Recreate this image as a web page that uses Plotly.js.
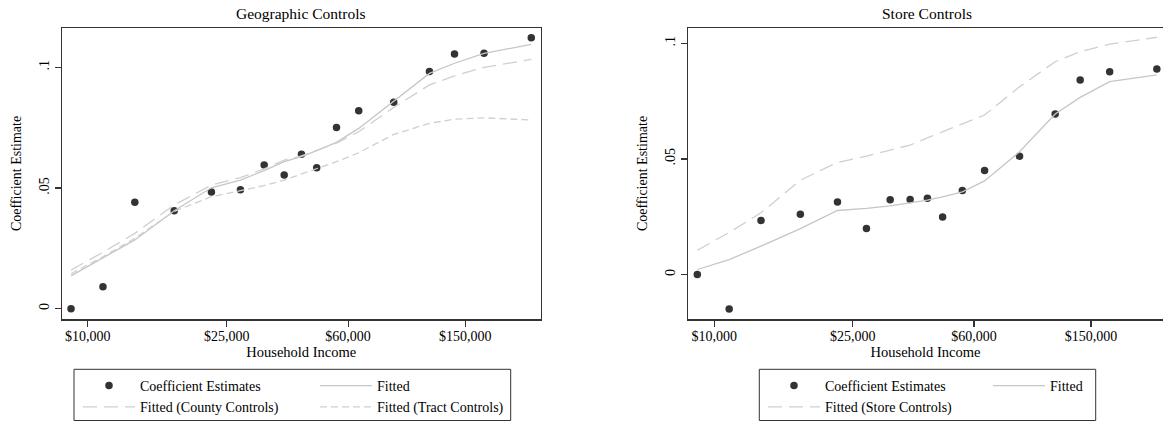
<!DOCTYPE html>
<html><head><meta charset="utf-8">
<script src="https://cdn.plot.ly/plotly-3.0.1.min.js"></script>
<style>html,body{margin:0;padding:0;background:#fff;overflow:hidden}</style>
</head><body><div id="chart" style="width:1163px;height:422px"></div>
<script>
// Income bin midpoints (x), plotted as ln(income) on a log-scaled axis
const income = [9000, 11000, 13500, 17500, 22500, 27500, 32500, 37500, 42500, 47500, 55000, 65000, 85000, 112500, 137500, 175000, 260000];
const tickIncome = [10000, 25000, 60000, 150000];
const tickLabels = ['$10,000', '$25,000', '$60,000', '$150,000'];
const yTickVals = [0, 0.05, 0.1];
const yTickLabels = ['0', '.05', '.1'];

// Panel 1: Geographic Controls
const geoCoef   = [0.0000, 0.0091, 0.0441, 0.0406, 0.0483, 0.0493, 0.0595, 0.0554, 0.0640, 0.0584, 0.0751, 0.0820, 0.0855, 0.0983, 0.1055, 0.1058, 0.1123];
const geoFitted = [0.0136, 0.0211, 0.0285, 0.0406, 0.0501, 0.0533, 0.0572, 0.0609, 0.0630, 0.0655, 0.0689, 0.0747, 0.0858, 0.0975, 0.1017, 0.1058, 0.1095];
const geoCounty = [0.0160, 0.0234, 0.0312, 0.0430, 0.0512, 0.0543, 0.0579, 0.0616, 0.0633, 0.0655, 0.0686, 0.0733, 0.0834, 0.0927, 0.0965, 0.1000, 0.1033];
const geoTract  = [0.0145, 0.0215, 0.0292, 0.0403, 0.0464, 0.0489, 0.0510, 0.0533, 0.0558, 0.0582, 0.0609, 0.0646, 0.0722, 0.0768, 0.0785, 0.0791, 0.0782];

// Panel 2: Store Controls
const storeCoef   = [0.0000, -0.0149, 0.0234, 0.0261, 0.0314, 0.0199, 0.0323, 0.0325, 0.0330, 0.0249, 0.0364, 0.0450, 0.0512, 0.0694, 0.0841, 0.0877, 0.0889];
const storeFitted = [0.0022, 0.0065, 0.0123, 0.0199, 0.0277, 0.0286, 0.0297, 0.0310, 0.0322, 0.0336, 0.0358, 0.0405, 0.0531, 0.0694, 0.0766, 0.0834, 0.0863];
const storeStore  = [0.0105, 0.0182, 0.0267, 0.0408, 0.0485, 0.0512, 0.0538, 0.0560, 0.0591, 0.0617, 0.0654, 0.0690, 0.0812, 0.0920, 0.0964, 0.0996, 0.1026];

const x = income.map(Math.log);
const W = 1163, H = 422, T = 28, B = 319;
const PH = B - T;
const fx = p => p / W;
const fy = p => (B - p) / PH;

const dotStyle = {color: '#333333', size: 7.5};
const solid = {color: '#c6c6c6', width: 1.3};
const longDash = {color: '#cfcfcf', width: 1.3, dash: '14px,7px'};
const shortDash = {color: '#cfcfcf', width: 1.3, dash: '7px,4px'};

const traces = [
  {x: x, y: geoCoef, type: 'scatter', mode: 'markers', marker: dotStyle, name: 'Coefficient Estimates', xaxis: 'x', yaxis: 'y', legend: 'legend'},
  {x: x, y: geoFitted, type: 'scatter', mode: 'lines', line: solid, name: 'Fitted', xaxis: 'x', yaxis: 'y', legend: 'legend2'},
  {x: x, y: geoCounty, type: 'scatter', mode: 'lines', line: longDash, name: 'Fitted (County Controls)', xaxis: 'x', yaxis: 'y', legend: 'legend'},
  {x: x, y: geoTract, type: 'scatter', mode: 'lines', line: shortDash, name: 'Fitted (Tract Controls)', xaxis: 'x', yaxis: 'y', legend: 'legend2'},
  {x: x, y: storeCoef, type: 'scatter', mode: 'markers', marker: dotStyle, name: 'Coefficient Estimates', xaxis: 'x2', yaxis: 'y2', legend: 'legend3'},
  {x: x, y: storeFitted, type: 'scatter', mode: 'lines', line: solid, name: 'Fitted', xaxis: 'x2', yaxis: 'y2', legend: 'legend4'},
  {x: x, y: storeStore, type: 'scatter', mode: 'lines', line: longDash, name: 'Fitted (Store Controls)', xaxis: 'x2', yaxis: 'y2', legend: 'legend3'}
];

const fontFam = '"Liberation Serif", "Times New Roman", Times, serif';
const axisCommon = {
  showline: true, mirror: true, linecolor: '#333', linewidth: 1.5,
  ticks: 'outside', ticklen: 6, tickwidth: 1.2, tickcolor: '#333',
  showgrid: false, zeroline: false, automargin: false,
  tickfont: {family: fontFam, size: 14, color: '#000'}
};
const xCommon = Object.assign({}, axisCommon, {
  type: 'log', tickvals: tickIncome.map(Math.log), ticktext: tickLabels, ticklabelstandoff: -2,
  title: {text: 'Household Income', font: {family: fontFam, size: 14.5, color: '#000'}, standoff: 0}
});
const yCommon = Object.assign({}, axisCommon, {
  tickvals: yTickVals, ticktext: yTickLabels, tickangle: -90,
  title: {text: 'Coefficient Estimate', font: {family: fontFam, size: 14, color: '#000'}, standoff: 12}
});

const legCommon = {
  orientation: 'v', xanchor: 'left', yanchor: 'top', bgcolor: 'rgba(0,0,0,0)', borderwidth: 0,
  itemwidth: 52, font: {family: fontFam, size: 14, color: '#000'}, traceorder: 'normal', y: fy(370)
};

const layout = {
  width: W, height: H,
  margin: {l: 0, r: 0, t: T, b: H - B, autoexpand: false},
  paper_bgcolor: '#fff', plot_bgcolor: '#fff',
  font: {family: fontFam, size: 14, color: '#000'},
  showlegend: true,
  xaxis: Object.assign({}, xCommon, {domain: [fx(62), fx(540.5)], range: [0.95660, 1.09855], anchor: 'y'}),
  yaxis: Object.assign({}, yCommon, {domain: [0, 1], range: [-0.00427, 0.1163], anchor: 'x'}),
  xaxis2: Object.assign({}, xCommon, {domain: [fx(688), 1], range: [0.95651, 1.09764], anchor: 'y2'}),
  yaxis2: Object.assign({}, yCommon, {domain: [0, 1], range: [-0.0192, 0.1066], anchor: 'x2'}),
  legend: Object.assign({}, legCommon, {x: fx(78)}),
  legend2: Object.assign({}, legCommon, {x: fx(315)}),
  legend3: Object.assign({}, legCommon, {x: fx(763)}),
  legend4: Object.assign({}, legCommon, {x: fx(988)}),
  annotations: [
    {text: 'Geographic Controls', xref: 'paper', yref: 'paper', x: fx(301), y: fy(14), xanchor: 'center', yanchor: 'middle', showarrow: false, font: {family: fontFam, size: 15.5, color: '#000'}},
    {text: 'Store Controls', xref: 'paper', yref: 'paper', x: fx(927), y: fy(14), xanchor: 'center', yanchor: 'middle', showarrow: false, font: {family: fontFam, size: 15.5, color: '#000'}}
  ],
  shapes: [
    {type: 'rect', xref: 'paper', yref: 'paper', x0: fx(74), x1: fx(510.7), y0: fy(369.3), y1: fy(420.5), line: {color: '#333', width: 1}},
    {type: 'rect', xref: 'paper', yref: 'paper', x0: fx(759.3), x1: fx(1095.7), y0: fy(369.3), y1: fy(420.5), line: {color: '#333', width: 1}}
  ]
};

Plotly.newPlot('chart', traces, layout, {displayModeBar: false, staticPlot: true});
</script>
</body></html>
